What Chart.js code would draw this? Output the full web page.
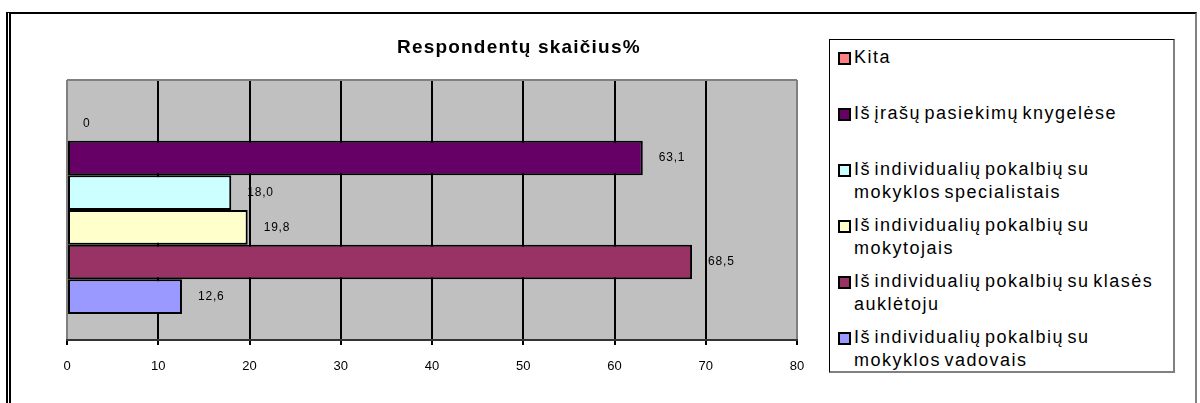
<!DOCTYPE html>
<html>
<head>
<meta charset="utf-8">
<script src="https://cdn.jsdelivr.net/npm/chart.js@4"></script>
<style>
    body { margin: 0; background: #fff; font-family: Arial, "Liberation Sans", sans-serif; }
    #page { position: relative; width: 1200px; height: 403px; overflow: hidden; }
    #frame {
        position: absolute; left: 6px; top: 12px; width: 1184px; height: 420px;
        border-top: 2px solid #000; border-left: 5px double #000; border-right: 2px solid #808080;
    }
    #wrap { position: absolute; left: 0; top: 0; width: 820px; height: 403px; }
    #title {
        position: absolute; left: 397px; top: 36px; font-size: 19px; font-weight: bold;
        letter-spacing: 1.2px; line-height: 22px; white-space: nowrap;
    }
    #legend {
        position: absolute; left: 829px; top: 39px; width: 346px; height: 334px;
        border: 1px solid #000; border-right: 2px solid #808080; border-bottom: 2px solid #808080;
        background: #fff; padding-top: 6px; box-sizing: border-box;
    }
    .item { height: 56px; display: flex; align-items: flex-start; }
    .sw { width: 9px; height: 9px; border: 2px solid #000; margin: 6px 3px 0 8px; flex: none; }
    .txt { font-size: 18px; letter-spacing: 1.5px; word-spacing: -3px; line-height: 23px; width: 318px; }
</style>
</head>
<body>
<div id="page">
    <div id="frame"></div>
    <div id="wrap"><canvas id="c"></canvas></div>
    <div id="title">Respondentų skaičius%</div>
    <div id="legend"></div>
</div>
<script>
const seriesNames = [
    "Kita",
    "Iš įrašų pasiekimų knygelėse",
    "Iš individualių pokalbių su mokyklos specialistais",
    "Iš individualių pokalbių su mokytojais",
    "Iš individualių pokalbių su klasės auklėtoju",
    "Iš individualių pokalbių su mokyklos vadovais"
]
const seriesValues = [0, 63.1, 18.0, 19.8, 68.5, 12.6]
const seriesColors = ["#FF8080", "#660066", "#CCFFFF", "#FFFFCC", "#993366", "#9999FF"]
const xTicks = [0, 10, 20, 30, 40, 50, 60, 70, 80]

function fmt(v) {
    return v === 0 ? "0" : v.toFixed(1).replace(".", ",")
}

// gray plot area, gray frame on top
const plotBg = {
    id: "plotBg",
    beforeDraw(chart) {
        const a = chart.chartArea, ctx = chart.ctx
        ctx.save()
        ctx.fillStyle = "#C0C0C0"
        ctx.fillRect(a.left, a.top, a.right - a.left, a.bottom - a.top)
        ctx.restore()
    },
    beforeDatasetsDraw(chart) {
        const a = chart.chartArea, ctx = chart.ctx
        ctx.save()
        ctx.strokeStyle = "#808080"
        ctx.lineWidth = 2
        ctx.beginPath()
        ctx.moveTo(a.left, a.top)
        ctx.lineTo(a.right, a.top)
        ctx.stroke()
        ctx.restore()
    }
}

const valueLabels = {
    id: "valueLabels",
    afterDatasetsDraw(chart) {
        const ctx = chart.ctx
        ctx.save()
        ctx.font = "12px Arial, 'Liberation Sans', sans-serif"
        ctx.letterSpacing = "0.8px"
        ctx.fillStyle = "#000"
        ctx.textBaseline = "middle"
        chart.data.datasets.forEach((ds, i) => {
            const el = chart.getDatasetMeta(i).data[0]
            ctx.fillText(fmt(ds.data[0]), el.x + 16, el.y)
        })
        ctx.restore()
    }
}

function buildLegend() {
    const lg = document.getElementById("legend")
    seriesNames.forEach((name, i) => {
        const it = document.createElement("div")
        it.className = "item"
        const sw = document.createElement("div")
        sw.className = "sw"
        sw.style.background = seriesColors[i]
        const t = document.createElement("div")
        t.className = "txt"
        t.textContent = name
        it.appendChild(sw)
        it.appendChild(t)
        lg.appendChild(it)
    })
}

function chartInit() {
    const ctx = document.getElementById("c").getContext("2d")
    window.chart = new Chart(ctx, {
        type: "bar",
        data: {
            labels: [""],
            datasets: seriesNames.map((name, i) => ({
                label: name,
                data: [seriesValues[i]],
                backgroundColor: seriesColors[i],
                borderColor: "#000",
                borderWidth: (c) => c.raw === 0 ? 0 : 2,
                borderSkipped: false,
                categoryPercentage: 0.8,
                barPercentage: 1.0,
            }))
        },
        options: {
            indexAxis: "y",
            responsive: true,
            maintainAspectRatio: false,
            animation: false,
            plugins: {
                legend: {display: false},
                tooltip: {enabled: false},
                title: {display: false}
            },
            layout: {
                padding: {left: 67, top: 80, right: 23, bottom: 0}
            },
            scales: {
                y: {display: false},
                x: {
                    min: 0,
                    max: 80,
                    afterBuildTicks: (s) => { s.ticks = xTicks.map(v => ({value: v})) },
                    afterFit: (s) => { s.height = 63 },
                    ticks: {
                        color: "#000",
                        padding: 14,
                        font: {family: "Arial, 'Liberation Sans', sans-serif", size: 13},
                        maxRotation: 0
                    },
                    grid: {
                        color: (c) => (c.tick && (c.tick.value === 0 || c.tick.value === 80)) ? "#808080" : "#000",
                        lineWidth: 2,
                        tickColor: "#000",
                        tickLength: 5
                    },
                    border: {display: true, color: "#333", width: 2}
                }
            }
        },
        plugins: [plotBg, valueLabels]
    })
}

buildLegend()
chartInit()
</script>
</body>
</html>
